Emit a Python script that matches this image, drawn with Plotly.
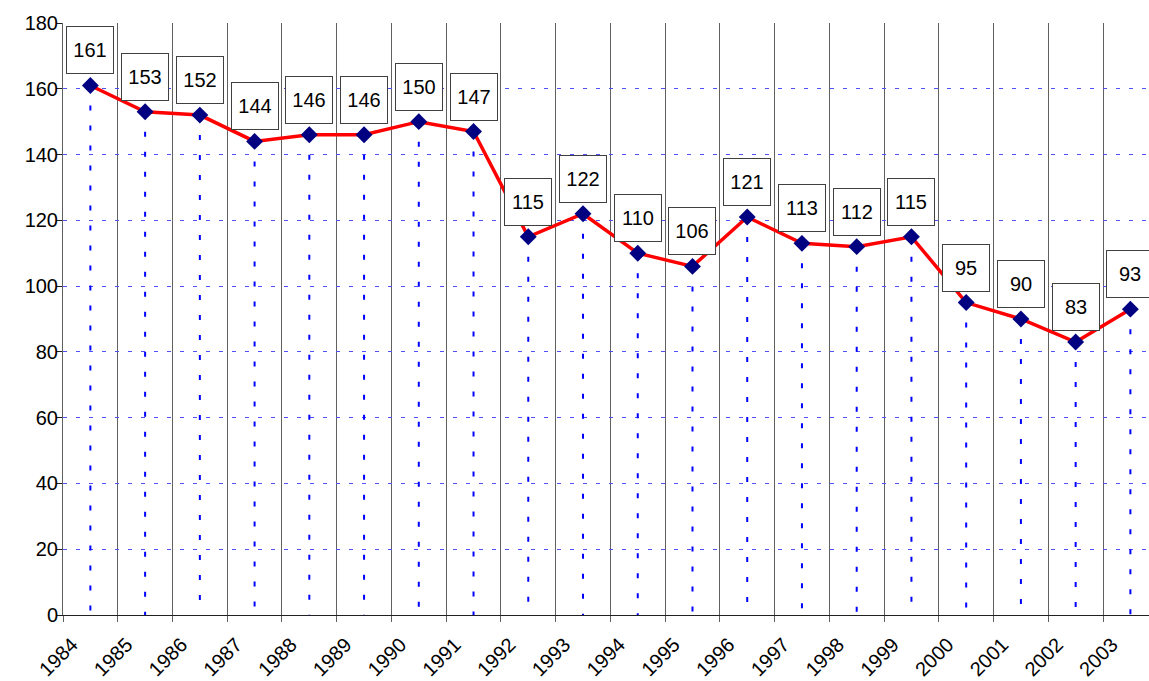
import plotly.graph_objects as go

years = [str(y) for y in range(1984, 2004)]
values = [161, 153, 152, 144, 146, 146, 150, 147, 115, 122,
          110, 106, 121, 113, 112, 115, 95, 90, 83, 93]
y_ticks = list(range(0, 181, 20))

xs = list(range(len(years)))

# drop lines
dx, dy = [], []
for i, v in zip(xs, values):
    dx += [i, i, None]
    dy += [v, 0, None]

FONT = "Liberation Sans, Arial, sans-serif"

fig = go.Figure()
fig.add_trace(go.Scatter(x=dx, y=dy, mode="lines",
                         line=dict(color="#0000FF", width=2, dash="5px,15px"),
                         hoverinfo="skip", showlegend=False))
fig.add_trace(go.Scatter(x=xs, y=values, mode="lines+markers",
                         line=dict(color="#FF0000", width=3.5),
                         marker=dict(symbol="diamond", size=13, color="#000080"),
                         showlegend=False))

for i, v in zip(xs, values):
    fig.add_annotation(x=i, y=v, text=str(v), showarrow=False,
                       yanchor="bottom", yshift=11,
                       width=46, height=46, borderpad=0,
                       bgcolor="white", bordercolor="#404040", borderwidth=1,
                       font=dict(family=FONT, size=20, color="black"))

fig.update_xaxes(
    range=[-0.5, 19.34],
    tickmode="array",
    tickvals=[i - 0.5 for i in xs],
    ticktext=years,
    tickangle=-45,
    ticklabelshift=9,
    ticklabelstandoff=3,
    automargin=False,
    showgrid=True, gridcolor="#606060", gridwidth=1,
    ticks="outside", ticklen=6, tickcolor="#606060",
    showline=True, linecolor="#202020", linewidth=1,
    zeroline=False,
    tickfont=dict(family=FONT, size=20, color="black"),
)
fig.update_yaxes(
    range=[0, 180],
    tickmode="array", tickvals=y_ticks,
    ticklabelstandoff=-6,
    automargin=False,
    showgrid=True, gridcolor="#5050FF", gridwidth=1, griddash="4px,9px",
    ticks="outside", ticklen=6, tickcolor="#202020",
    showline=True, linecolor="#606060", linewidth=1,
    zeroline=False,
    tickfont=dict(family=FONT, size=20, color="black"),
)

fig.update_layout(
    width=1149, height=681,
    margin=dict(l=63, r=0, t=23, b=66),
    plot_bgcolor="white", paper_bgcolor="white",
)

fig.write_html("out.html", config={"displayModeBar": False},
               post_script="document.body.style.margin='0px';document.body.style.overflow='hidden';")
